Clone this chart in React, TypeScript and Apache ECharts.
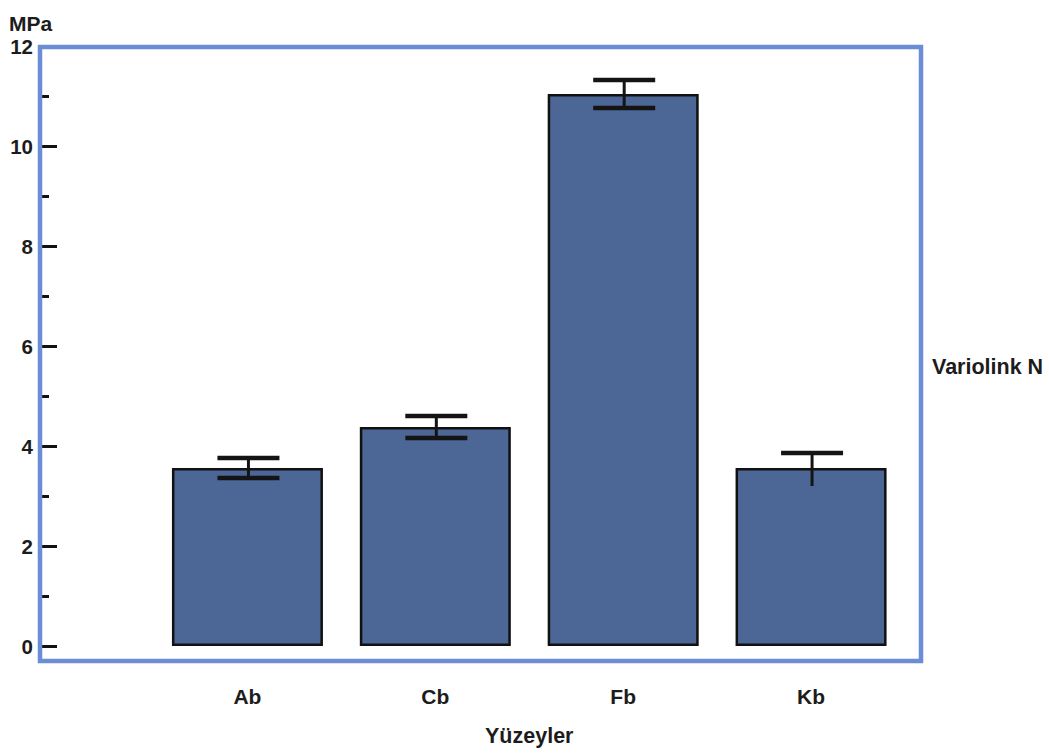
import React, { useEffect, useRef } from "react";
import * as echarts from "echarts";

const categories = ["Ab", "Cb", "Fb", "Kb"];
const means = [3.56, 4.38, 11.04, 3.56];
const upper = [3.76, 4.6, 11.32, 3.86];
const lower = [3.36, 4.16, 10.76, 3.2];
const lowerCap = [true, true, true, false];
const yTicks = [0, 2, 4, 6, 8, 10, 12];

const FONT = "'Liberation Sans', Arial, Helvetica, sans-serif";
const TEXT = "#1c1c1c";
const FRAME = "#6b8dd6";

export default function App() {
  const ref = useRef<HTMLDivElement>(null);
  useEffect(() => {
    document.body.style.margin = "0";
    if (!ref.current) return;
    const chart = echarts.init(ref.current, undefined, { renderer: "svg" });
    const errData = categories.map((c, i) => [i, upper[i], lower[i], lowerCap[i] ? 1 : 0]);
    chart.setOption({
      animation: false,
      backgroundColor: "#ffffff",
      grid: { left: 153.5, right: 144, top: 46, bottom: 107 },
      xAxis: {
        type: "category",
        data: categories,
        axisLine: { show: false },
        axisTick: { show: false },
        axisLabel: {
          margin: 40,
          color: TEXT,
          fontFamily: FONT,
          fontWeight: "bold",
          fontSize: 21,
        },
        name: "Yüzeyler",
        nameLocation: "middle",
        nameGap: 79,
        nameTextStyle: { color: TEXT, fontFamily: FONT, fontWeight: "bold", fontSize: 21.5 },
      },
      yAxis: {
        type: "value",
        min: yTicks[0],
        max: yTicks[yTicks.length - 1],
        interval: 2,
        offset: 111.5,
        axisLine: { show: false },
        axisTick: { show: true, inside: true, length: 15, lineStyle: { color: "#111", width: 3 } },
        minorTick: { show: true, splitNumber: 2, length: 7, lineStyle: { color: "#111", width: 3 } },
        splitLine: { show: false },
        axisLabel: {
          margin: 9,
          color: TEXT,
          fontFamily: FONT,
          fontWeight: "bold",
          fontSize: 20.5,
        },
      },
      series: [
        {
          type: "bar",
          data: means,
          barWidth: 151,
          itemStyle: { color: "#4c6696", borderColor: "#111", borderWidth: 2.5 },
          z: 2,
        },
        {
          type: "custom",
          data: errData,
          encode: { x: 0, y: [1, 2] },
          z: 5,
          renderItem: (params: any, api: any) => {
            const idx = api.value(0);
            const hi = api.coord([idx, api.value(1)]);
            const lo = api.coord([idx, api.value(2)]);
            const cap = api.value(3);
            const half = 31;
            const x = hi[0] + 1;
            const children: any[] = [
              { type: "line", shape: { x1: x, y1: hi[1], x2: x, y2: lo[1] }, style: { stroke: "#141414", lineWidth: 3 } },
              { type: "line", shape: { x1: x - half, y1: hi[1], x2: x + half, y2: hi[1] }, style: { stroke: "#141414", lineWidth: 4.5 } },
            ];
            if (cap) {
              children.push({ type: "line", shape: { x1: x - half, y1: lo[1], x2: x + half, y2: lo[1] }, style: { stroke: "#141414", lineWidth: 4.5 } });
            }
            return { type: "group", children };
          },
        },
      ],
      graphic: [
        {
          type: "rect",
          shape: { x: 40, y: 47, width: 881, height: 614 },
          style: { fill: "none", stroke: FRAME, lineWidth: 4.5 },
          z: 10,
        },
        {
          type: "text",
          left: 9,
          top: 13,
          style: { text: "MPa", fill: TEXT, font: `bold 21px ${FONT}` },
        },
        {
          type: "text",
          left: 932,
          top: 356,
          style: { text: "Variolink N", fill: TEXT, font: `bold 21.5px ${FONT}` },
        },
      ],
    });
    return () => chart.dispose();
  }, []);
  return <div ref={ref} style={{ width: 1049, height: 753 }} />;
}
